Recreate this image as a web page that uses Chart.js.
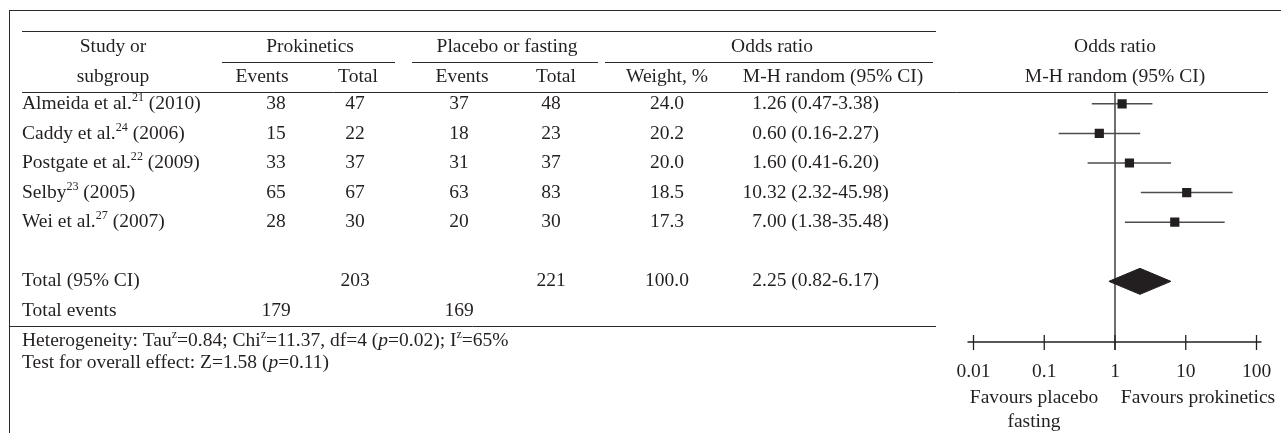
<!DOCTYPE html>
<html>
<head>
<meta charset="utf-8">
<script src="https://cdn.jsdelivr.net/npm/chart.js@4.4.0/dist/chart.umd.min.js"></script>
<style>
  html, body { margin: 0; padding: 0; background: #fff; }
  canvas { display: block; }
</style>
</head>
<body>
<canvas id="forest" width="1281" height="433"></canvas>
<script>
// Study data
const studies = ['Almeida et al.', 'Caddy et al.', 'Postgate et al.', 'Selby', 'Wei et al.'];
const refs = ['21', '24', '22', '23', '27'];
const years = ['2010', '2006', '2009', '2005', '2007'];
const proEvents = [38, 15, 33, 65, 28];
const proTotal = [47, 22, 37, 67, 30];
const plaEvents = [37, 18, 31, 63, 20];
const plaTotal = [48, 23, 37, 83, 30];
const weights = ['24.0', '20.2', '20.0', '18.5', '17.3'];
const orEst = [1.26, 0.60, 1.60, 10.32, 7.00];
const orLow = [0.47, 0.16, 0.41, 2.32, 1.38];
const orHigh = [3.38, 2.27, 6.20, 45.98, 35.48];

// Pooled result
const totalCounts = [203, 221];     // prokinetics, placebo
const totalEvents = [179, 169];
const totalWeight = '100.0';
const pooledOR = [2.25, 0.82, 6.17]; // estimate, low, high

const xTicks = [0.01, 0.1, 1, 10, 100];
const xTickLabels = ['0.01', '0.1', '1', '10', '100'];

const FONT = '"Liberation Serif", "Times New Roman", serif';
const SIZE = 19.5;
const INK = '#231f20';
const TOTAL_ROW = 6;
const EVENTS_ROW = 7;

// column anchors (px)
const col = { study: 22, proE: 276, proT: 355, plaE: 459, plaT: 551, weight: 667, orAnchor: 762 };

function fontFor(style) {
    if (style === 'sup') return (SIZE * 0.62) + 'px ' + FONT;
    if (style === 'i') return 'italic ' + SIZE + 'px ' + FONT;
    return SIZE + 'px ' + FONT;
}

// draw text made of parts: [text, style]
function drawRich(ctx, parts, x, y, align) {
    let w = 0;
    parts.forEach(p => { ctx.font = fontFor(p[1]); w += ctx.measureText(p[0]).width; });
    let cx = align === 'center' ? x - w / 2 : align === 'right' ? x - w : x;
    ctx.textAlign = 'left';
    ctx.textBaseline = 'middle';
    ctx.fillStyle = INK;
    parts.forEach(p => {
        ctx.font = fontFor(p[1]);
        ctx.fillText(p[0], cx, p[1] === 'sup' ? y - SIZE * 0.3 : y);
        cx += ctx.measureText(p[0]).width;
    });
}

function text(ctx, s, x, y, align) {
    drawRich(ctx, [[s, '']], x, y, align);
}

function hline(ctx, x1, x2, y) {
    ctx.beginPath();
    ctx.moveTo(x1, y);
    ctx.lineTo(x2, y);
    ctx.stroke();
}

function vline(ctx, x, y1, y2) {
    ctx.beginPath();
    ctx.moveTo(x, y1);
    ctx.lineTo(x, y2);
    ctx.stroke();
}

// CI text with the decimal point of the estimate lined up
function ciText(ctx, est, lo, hi, y) {
    const s = est.toFixed(2);
    ctx.font = fontFor('');
    const intW = ctx.measureText(s.split('.')[0]).width;
    text(ctx, s + ' (' + lo.toFixed(2) + '-' + hi.toFixed(2) + ')', col.orAnchor - intW, y, 'left');
}

const tablePlugin = {
    id: 'table',
    beforeDatasetsDraw(chart) {
        const { ctx, scales: { x } } = chart;
        const axisY = chart.chartArea.bottom;
        ctx.save();
        ctx.strokeStyle = INK;
        ctx.lineWidth = 1.3;
        // no-effect line
        vline(ctx, x.getPixelForValue(1), 92, axisY + 8);
        // axis
        hline(ctx, x.getPixelForValue(xTicks[0]) - 6, x.getPixelForValue(xTicks[xTicks.length - 1]) + 5, axisY);
        xTicks.forEach(t => vline(ctx, x.getPixelForValue(t), axisY - 7, axisY + 8));
        ctx.restore();
    },
    afterDraw(chart) {
        const { ctx, scales: { x, y } } = chart;
        const axisY = chart.chartArea.bottom;
        ctx.save();

        // frame and rules
        ctx.strokeStyle = '#2a2a2a';
        ctx.lineWidth = 1;
        hline(ctx, 9, 1281, 10.5);
        vline(ctx, 9.5, 10, 433);
        hline(ctx, 22, 936, 31.5);
        hline(ctx, 222, 395, 62.5);
        hline(ctx, 412, 598, 62.5);
        hline(ctx, 605, 933, 62.5);
        hline(ctx, 22, 1268, 92.5);
        hline(ctx, 9, 936, 326.5);

        // headers
        text(ctx, 'Study or', 113, 47, 'center');
        text(ctx, 'subgroup', 113, 77, 'center');
        text(ctx, 'Prokinetics', 310, 47, 'center');
        text(ctx, 'Events', 262, 77, 'center');
        text(ctx, 'Total', 358, 77, 'center');
        text(ctx, 'Placebo or fasting', 507, 47, 'center');
        text(ctx, 'Events', 462, 77, 'center');
        text(ctx, 'Total', 556, 77, 'center');
        text(ctx, 'Odds ratio', 772, 47, 'center');
        text(ctx, 'Weight, %', 667, 77, 'center');
        text(ctx, 'M-H random (95% CI)', 833, 77, 'center');
        const oneX = x.getPixelForValue(1);
        text(ctx, 'Odds ratio', oneX, 47, 'center');
        text(ctx, 'M-H random (95% CI)', oneX, 77, 'center');

        // study rows
        studies.forEach((name, i) => {
            const ry = y.getPixelForValue(i);
            drawRich(ctx, [[name, ''], [refs[i], 'sup'], [' (' + years[i] + ')', '']], col.study, ry, 'left');
            text(ctx, String(proEvents[i]), col.proE, ry, 'center');
            text(ctx, String(proTotal[i]), col.proT, ry, 'center');
            text(ctx, String(plaEvents[i]), col.plaE, ry, 'center');
            text(ctx, String(plaTotal[i]), col.plaT, ry, 'center');
            text(ctx, weights[i], col.weight, ry, 'center');
            ciText(ctx, orEst[i], orLow[i], orHigh[i], ry);
        });

        // totals
        const ty = y.getPixelForValue(TOTAL_ROW);
        text(ctx, 'Total (95% CI)', col.study, ty, 'left');
        text(ctx, String(totalCounts[0]), col.proT, ty, 'center');
        text(ctx, String(totalCounts[1]), col.plaT, ty, 'center');
        text(ctx, totalWeight, col.weight, ty, 'center');
        ciText(ctx, pooledOR[0], pooledOR[1], pooledOR[2], ty);
        const ey = y.getPixelForValue(EVENTS_ROW);
        text(ctx, 'Total events', col.study, ey, 'left');
        text(ctx, String(totalEvents[0]), col.proE, ey, 'center');
        text(ctx, String(totalEvents[1]), col.plaE, ey, 'center');

        // footnotes
        drawRich(ctx, [['Heterogeneity: Tau', ''], ['z', 'sup'], ['=0.84; Chi', ''], ['z', 'sup'],
            ['=11.37, df=4 (', ''], ['p', 'i'], ['=0.02); I', ''], ['z', 'sup'], ['=65%', '']], col.study, 341, 'left');
        drawRich(ctx, [['Test for overall effect: Z=1.58 (', ''], ['p', 'i'], ['=0.11)', '']], col.study, 363, 'left');

        // axis labels
        xTicks.forEach((t, i) => text(ctx, xTickLabels[i], x.getPixelForValue(t), axisY + 30, 'center'));
        text(ctx, 'Favours placebo', 1034, axisY + 56, 'center');
        text(ctx, 'fasting', 1034, axisY + 80, 'center');
        text(ctx, 'Favours prokinetics', 1198, axisY + 56, 'center');
        ctx.restore();
    }
};

const DIAMOND_H = 0.44;

const datasets = [{
    label: 'studies',
    data: orEst.map((v, i) => ({ x: v, y: i })),
    pointStyle: 'rect',
    pointRadius: 6.5,
    backgroundColor: INK,
    borderColor: INK,
    borderWidth: 0
}, {
    label: 'pooled',
    data: [
        { x: pooledOR[1], y: TOTAL_ROW },
        { x: pooledOR[0], y: TOTAL_ROW - DIAMOND_H },
        { x: pooledOR[2], y: TOTAL_ROW },
        { x: pooledOR[0], y: TOTAL_ROW + DIAMOND_H },
        { x: pooledOR[1], y: TOTAL_ROW }
    ],
    showLine: true,
    fill: 'shape',
    pointRadius: 0,
    borderColor: INK,
    borderWidth: 1,
    backgroundColor: INK
}].concat(orEst.map((_, i) => ({
    label: 'ci' + i,
    data: [{ x: orLow[i], y: i }, { x: orHigh[i], y: i }],
    showLine: true,
    pointRadius: 0,
    borderColor: '#4d4d4d',
    borderWidth: 1.5
})));

new Chart(document.getElementById('forest'), {
    type: 'scatter',
    data: { datasets: datasets },
    options: {
        responsive: false,
        animation: false,
        layout: { padding: { left: 973.5, right: 24.5, top: 92, bottom: 91 } },
        scales: {
            x: { type: 'logarithmic', min: 0.01, max: 100, display: false },
            y: { type: 'linear', min: -0.4, max: 8.05, reverse: true, display: false }
        },
        plugins: { legend: { display: false }, tooltip: { enabled: false } }
    },
    plugins: [tablePlugin]
});
</script>
</body>
</html>
